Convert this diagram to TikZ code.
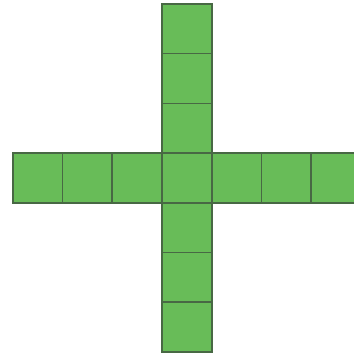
\documentclass[tikz,border=0pt]{standalone}
\definecolor{CellGreen}{RGB}{104,188,88}
\definecolor{CellEdge}{RGB}{72,104,68}
\usetikzlibrary{positioning}

\begin{document}
\begin{tikzpicture}[x=1bp, y=-1bp,
        cell/.style={draw=CellEdge, fill=CellGreen, line width=1.6bp,
                     minimum size=49.7bp, inner sep=0pt}
      ]
        \useasboundingbox (0,0) rectangle (354,358);
        \clip (0,0) rectangle (354,358);

        % vertical bar
        \foreach \k in {-3,...,3}
          \node[cell] (v\k) at (186.85, 177.85+49.7*\k) {};

        % horizontal bar
        \foreach \k in {-3,-2,-1,1,2,3}
          \node[cell] (h\k) at (186.85+49.7*\k, 177.85) {};
      \end{tikzpicture}
\end{document}
